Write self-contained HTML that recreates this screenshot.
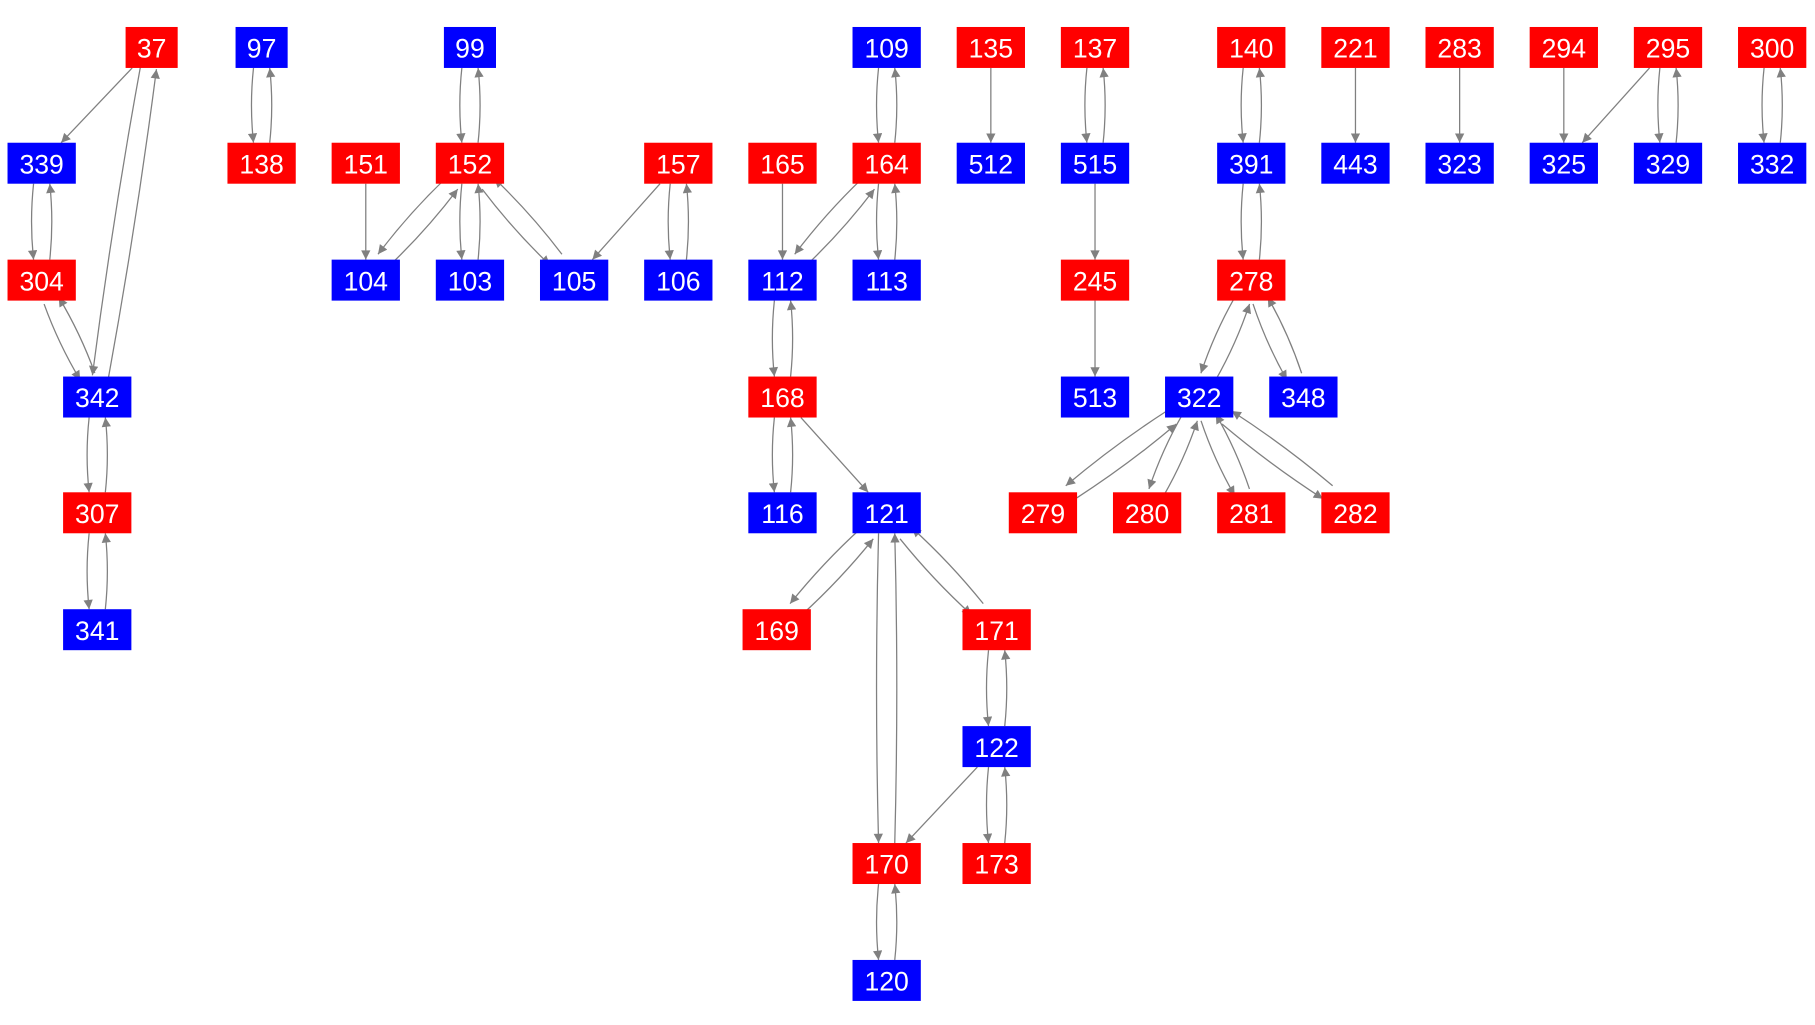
<!DOCTYPE html>
<html><head><meta charset="utf-8"><style>
html,body{margin:0;padding:0;background:#fff;}
svg{display:block}
text{font-family:"Liberation Sans",Arial,sans-serif;font-size:23px;fill:#fff;text-anchor:middle;dominant-baseline:central}
</style></head><body>
<svg id="g" width="1815" height="1025" viewBox="0 0 1568 885.5" xmlns="http://www.w3.org/2000/svg">
<defs><marker id="a" viewBox="0 0 10 10" refX="10" refY="5" markerWidth="10" markerHeight="8" markerUnits="userSpaceOnUse" orient="auto"><path d="M0,0 L10,5 L0,10 z" fill="#808080"/></marker></defs>
<g id="e"></g><g id="n"></g>
</svg>
<script>
var R='#ff0000',B='#0000ff';
var N={
'37':[131,41,R],'97':[226,41,B],'99':[406,41,B],'109':[766,41,B],'135':[856,41,R],'137':[946,41,R],'140':[1081,41,R],'221':[1171,41,R],'283':[1261,41,R],'294':[1351,41,R],'295':[1441,41,R],'300':[1531,41,R],
'339':[36,141,B],'138':[226,141,R],'151':[316,141,R],'152':[406,141,R],'157':[586,141,R],'165':[676,141,R],'164':[766,141,R],'512':[856,141,B],'515':[946,141,B],'391':[1081,141,B],'443':[1171,141,B],'323':[1261,141,B],'325':[1351,141,B],'329':[1441,141,B],'332':[1531,141,B],
'304':[36,242,R],'104':[316,242,B],'103':[406,242,B],'105':[496,242,B],'106':[586,242,B],'112':[676,242,B],'113':[766,242,B],'245':[946,242,R],'278':[1081,242,R],
'342':[84,343,B],'168':[676,343,R],'513':[946,343,B],'322':[1036,343,B],'348':[1126,343,B],
'307':[84,443,R],'116':[676,443,B],'121':[766,443,B],'279':[901,443,R],'280':[991,443,R],'281':[1081,443,R],'282':[1171,443,R],
'341':[84,544,B],'169':[671,544,R],'171':[861,544,R],'122':[861,645,B],'170':[766,746,R],'173':[861,746,R],'120':[766,847,B]};
var S=[['37','339'],['151','104'],['157','105'],['165','112'],['168','121'],['122','170'],['135','512'],['515','245'],['245','513'],['221','443'],['283','323'],['294','325'],['295','325']];
var D=[['37','342'],['97','138'],['339','304'],['304','342'],['342','307'],['307','341'],['99','152'],['152','104'],['152','103'],['152','105'],['157','106'],['109','164'],['164','112'],['164','113'],['112','168'],['168','116'],['121','169'],['121','171'],['121','170'],['171','122'],['122','173'],['170','120'],['137','515'],['140','391'],['391','278'],['278','322'],['278','348'],['322','279'],['322','280'],['322','281'],['322','282'],['295','329'],['300','332']];
function hw(k){return k.length>2?29.5:22.5}
function clip(c,dx,dy,w){var h=17.7;var t=Math.min(Math.abs(dx)>1e-6?w/Math.abs(dx):1e9,Math.abs(dy)>1e-6?h/Math.abs(dy):1e9);return [c[0]+dx*t,c[1]+dy*t];}
var eg=document.getElementById('e'),ng=document.getElementById('n'),ns='http://www.w3.org/2000/svg';
function edge(a,b,off){var A=N[a],Bn=N[b];var dx=Bn[0]-A[0],dy=Bn[1]-A[1],L=Math.hypot(dx,dy);var px=-dy/L*off,py=dx/L*off;
var A2=[A[0]+px,A[1]+py],B2=[Bn[0]+px,Bn[1]+py];
var p1=clip(A2,dx,dy,hw(a)),p2=clip(B2,-dx,-dy,hw(b));
var mx=(p1[0]+p2[0])/2+px*0.5,my=(p1[1]+p2[1])/2+py*0.5;
var p=document.createElementNS(ns,'path');p.setAttribute('d','M'+p1[0]+','+p1[1]+' Q'+mx+','+my+' '+p2[0]+','+p2[1]);
p.setAttribute('fill','none');p.setAttribute('stroke','#808080');p.setAttribute('stroke-width','1.1');p.setAttribute('marker-end','url(#a)');eg.appendChild(p);}
S.forEach(function(e){edge(e[0],e[1],0)});
D.forEach(function(e){edge(e[0],e[1],7);edge(e[1],e[0],7)});
for(var k in N){var c=N[k],w=hw(k);var r=document.createElementNS(ns,'rect');r.setAttribute('x',c[0]-w);r.setAttribute('y',c[1]-17.7);r.setAttribute('width',2*w);r.setAttribute('height',35.4);r.setAttribute('fill',c[2]);ng.appendChild(r);
var t=document.createElementNS(ns,'text');t.setAttribute('x',c[0]);t.setAttribute('y',c[1]+1);t.textContent=k;ng.appendChild(t);}
</script>
</body></html>
